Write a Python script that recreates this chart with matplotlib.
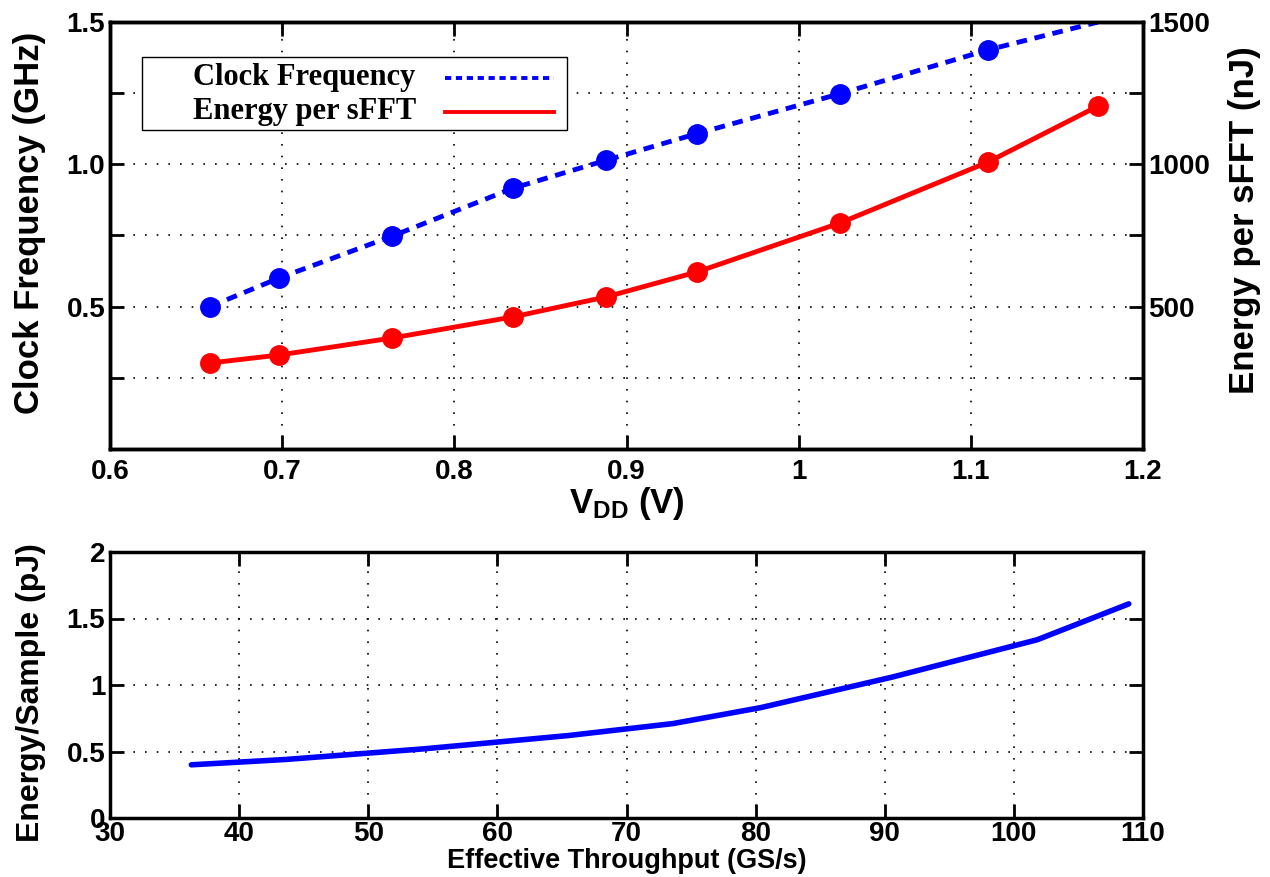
import matplotlib
matplotlib.use("Agg")
import matplotlib.pyplot as plt
from matplotlib.lines import Line2D
from matplotlib.patches import Rectangle

plt.rcParams['font.family'] = ['Liberation Sans', 'DejaVu Sans']
plt.rcParams['font.weight'] = 'bold'
plt.rcParams['mathtext.fontset'] = 'custom'
plt.rcParams['mathtext.rm'] = 'Liberation Sans:bold'
plt.rcParams['mathtext.bf'] = 'Liberation Sans:bold'

# ---- data ----
vdd = [0.658, 0.698, 0.764, 0.834, 0.888, 0.941, 1.024, 1.110, 1.174]
clock_ghz = [0.50, 0.60, 0.748, 0.916, 1.014, 1.108, 1.248, 1.402, 1.50]
energy_nj = [302, 330, 390, 464, 534, 622, 794, 1008, 1205]

throughput = [36.3, 43.6, 54.3, 65.5, 73.6, 80.4, 90.6, 101.8, 108.9]
energy_sample = [0.40, 0.44, 0.52, 0.62, 0.71, 0.83, 1.06, 1.34, 1.61]

top_xticks = [0.6, 0.7, 0.8, 0.9, 1.0, 1.1, 1.2]
top_xticklabels = ['0.6', '0.7', '0.8', '0.9', '1', '1.1', '1.2']
left_yticks = [0, 0.25, 0.5, 0.75, 1.0, 1.25, 1.5]
left_yticklabels = ['', '', '0.5', '', '1.0', '', '1.5']
right_yticks = [0, 250, 500, 750, 1000, 1250, 1500]
right_yticklabels = ['', '', '500', '', '1000', '', '1500']
bot_xticks = [30, 40, 50, 60, 70, 80, 90, 100, 110]
bot_yticks = [0, 0.5, 1, 1.5, 2]
bot_yticklabels = ['0', '0.5', '1', '1.5', '2']
legend_labels = ['Clock Frequency', 'Energy per sFFT']

W, H = 1270, 877
fig = plt.figure(figsize=(W / 100, H / 100), dpi=100)

def px_axes(x0, y0, x1, y1):
    return fig.add_axes([x0 / W, 1 - y1 / H, (x1 - x0) / W, (y1 - y0) / H])

grid_kw = dict(color='black', linestyle=(0, (1, 6)), linewidth=1.2)
tick_fs = 20
lab_fs = 25

def style_axes(ax):
    for s in ax.spines.values():
        s.set_linewidth(2.5)
    ax.tick_params(direction='in', length=10, width=2, labelsize=tick_fs)
    for lab in ax.get_xticklabels() + ax.get_yticklabels():
        lab.set_fontweight('bold')

BLUE = '#0000ff'
RED = '#ff0000'
DASH = (0, (2.2, 1.6))

# ---- top axes ----
TX0, TY0, TX1, TY1 = 110, 22, 1143, 449
ax = px_axes(TX0, TY0, TX1, TY1)
ax.set_xlim(0.6, 1.2)
ax.set_ylim(0, 1.5)
ax.set_xticks(top_xticks)
ax.set_xticklabels(top_xticklabels)
ax.set_yticks(left_yticks)
ax.set_yticklabels(left_yticklabels)
ax.grid(True, **grid_kw)
ax.tick_params(top=True, right=False)
style_axes(ax)
ax.tick_params(axis='x', pad=7)

ax.plot(vdd, clock_ghz, color=BLUE, linestyle=DASH, linewidth=3.5,
        marker='o', markersize=14, markevery=list(range(8)), zorder=3)

ax2 = ax.twinx()
ax2.set_ylim(0, 1500)
ax2.set_yticks(right_yticks)
ax2.set_yticklabels(right_yticklabels)
style_axes(ax2)
ax2.plot(vdd, energy_nj, color=RED, linewidth=3.5, marker='o', markersize=14, zorder=3)

ax.set_ylabel('Clock Frequency (GHz)', fontsize=lab_fs, fontweight='bold')
ax.yaxis.set_label_coords(-0.062, 0.53)
ax2.set_ylabel('Energy per sFFT (nJ)', fontsize=lab_fs, fontweight='bold')
ax2.yaxis.set_label_coords(1.082, 0.535)
ax.set_xlabel(r'$\mathrm{V_{DD}}$ (V)', fontsize=25, fontweight='bold', labelpad=0)

# legend (drawn as a MATLAB-style box: text left, line sample right)
def ax_pt(px, py):
    return ((px - TX0) / (TX1 - TX0), 1 - (py - TY0) / (TY1 - TY0))

bx0, by0 = ax_pt(142, 130)
bx1, by1 = ax_pt(567, 57)
ax2.add_patch(Rectangle((bx0, by0), bx1 - bx0, by1 - by0, transform=ax2.transAxes,
                        facecolor='white', edgecolor='black', linewidth=1.0, zorder=20))
leg_styles = [dict(color=BLUE, linestyle=(0, (1.6, 1.2)), linewidth=2.8),
              dict(color=RED, linestyle='-', linewidth=2.8)]
for i, (lab, st) in enumerate(zip(legend_labels, leg_styles)):
    row_y = 78 + 34 * i
    tx, ty = ax_pt(193, row_y)
    ax2.text(tx, ty, lab, transform=ax2.transAxes, ha='left', va='center',
             family='Liberation Serif', fontweight='bold', fontsize=22, zorder=21)
    lx0, ly = ax_pt(445, row_y)
    lx1, _ = ax_pt(554, row_y)
    ax2.add_line(Line2D([lx0, lx1], [ly, ly], transform=ax2.transAxes, zorder=21, **st))

# ---- bottom axes ----
bx = px_axes(110, 552, 1143, 818)
bx.set_xlim(30, 110)
bx.set_ylim(0, 2)
bx.set_xticks(bot_xticks)
bx.set_yticks(bot_yticks)
bx.set_yticklabels(bot_yticklabels)
bx.grid(True, **grid_kw)
bx.tick_params(top=True, right=True)
style_axes(bx)
bx.tick_params(axis='x', pad=2)
bx.plot(throughput, energy_sample, color=BLUE, linewidth=4, solid_capstyle='round')
bx.set_xlabel('Effective Throughput (GS/s)', fontsize=19.5, fontweight='bold', labelpad=1)
bx.set_ylabel('Energy/Sample (pJ)', fontsize=23, fontweight='bold')
bx.yaxis.set_label_coords(-0.062, 0.47)

fig.savefig('out.png', dpi=100)
